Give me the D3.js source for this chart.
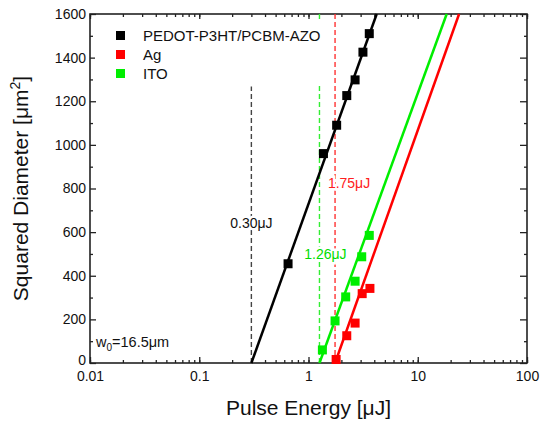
<!DOCTYPE html>
<meta charset="utf-8">
<script src="https://cdn.jsdelivr.net/npm/d3@7"></script>
<style>
body { margin: 0; background: #fff; }
text { font-family: Arial, "Liberation Sans", sans-serif; }
</style>
<body>
<script>
// data
var seriesNames = ["PEDOT-P3HT/PCBM-AZO", "Ag", "ITO"];
var seriesColors = ["#000000", "#ff0000", "#00ee00"];

var energyPedot = [0.65, 1.37, 1.81, 2.24, 2.67, 3.15, 3.60];
var diamPedot   = [455, 960, 1090, 1226, 1298, 1425, 1510];

var energyAg = [1.79, 2.24, 2.67, 3.10, 3.65];
var diamAg   = [16, 125, 183, 318, 342];

var energyIto = [1.34, 1.75, 2.19, 2.67, 3.07, 3.60];
var diamIto   = [60, 193, 303, 375, 487, 585];

// threshold energy (fit at D2 = 0) and energy where fit reaches top of plot
var thresholds = [0.30, 1.75, 1.26];
var fitTopEnergy = [4.21, 23.9, 18.4];
var thresholdLabels = ["0.30\u03bcJ", "1.75\u03bcJ", "1.26\u03bcJ"];
var labelHeights = [643, 825, 497];   // y value where the label sits
var dashTops = [1268, 1600, 1600];

var xMajor = [0.01, 0.1, 1, 10, 100];
var xMajorLabels = ["0.01", "0.1", "1", "10", "100"];
var yMajor = [0, 200, 400, 600, 800, 1000, 1200, 1400, 1600];

var margin = {top: 14, right: 16, bottom: 61, left: 90},
    width = 543 - margin.left - margin.right,
    height = 424 - margin.top - margin.bottom;

var svg = d3.select("body").append("svg")
    .attr("width", 543)
    .attr("height", 424)
  .append("g")
    .attr("transform", "translate(" + margin.left + "," + margin.top + ")");

var x = d3.scaleLog().domain([0.01, 100]).range([0, width]);
var y = d3.scaleLinear().domain([0, 1600]).range([height, 0]);

var axisColor = "#222";

// minor / major ticks, all pointing inward
function drawAxis(axis, transform, cls) {
  var g = svg.append("g").attr("class", cls).attr("transform", transform).call(axis);
  g.select(".domain").remove();
  g.selectAll("line").attr("stroke", axisColor).attr("stroke-width", 1.3);
  g.selectAll("text").style("font-size", "14px").attr("fill", "#111");
  return g;
}

var xMinor = x.ticks();
drawAxis(d3.axisBottom(x).tickValues(xMinor).tickSize(-3).tickFormat(""), "translate(0," + height + ")", "xminor");
drawAxis(d3.axisTop(x).tickValues(xMinor).tickSize(-3).tickFormat(""), "translate(0,0)", "xminor");
var xb = drawAxis(d3.axisBottom(x).tickValues(xMajor).tickSize(-6).tickPadding(10)
    .tickFormat(function(d, i) { return xMajorLabels[i]; }), "translate(0," + height + ")", "xmajor");
drawAxis(d3.axisTop(x).tickValues(xMajor).tickSize(-5).tickFormat(""), "translate(0,0)", "xmajor");

var yMinor = d3.range(100, 1600, 200);
drawAxis(d3.axisLeft(y).tickValues(yMinor).tickSize(-3).tickFormat(""), "translate(0,0)", "yminor");
drawAxis(d3.axisRight(y).tickValues(yMinor).tickSize(-3).tickFormat(""), "translate(" + width + ",0)", "yminor");
var yl = drawAxis(d3.axisLeft(y).tickValues(yMajor).tickSize(-6).tickPadding(4).tickFormat(d3.format("d")), "translate(0,0)", "ymajor");
drawAxis(d3.axisRight(y).tickValues(yMajor).tickSize(-7).tickFormat(""), "translate(" + width + ",0)", "ymajor");
xb.selectAll("text").attr("dy", "0.55em");
// lift the "0" a little so it clears "0.01"
yl.selectAll("text").filter(function(d) { return d === 0; }).attr("dy", "0.1em");

// frame
svg.append("rect")
    .attr("width", width).attr("height", height)
    .attr("fill", "none").attr("stroke", axisColor).attr("stroke-width", 1.6);

// threshold dashed lines
var dashColors = ["#444", "#ff3333", "#33ee33"];
for (var i = 0; i < 3; i++) {
  svg.append("line")
      .attr("x1", x(thresholds[i])).attr("x2", x(thresholds[i]))
      .attr("y1", y(0)).attr("y2", y(dashTops[i]))
      .attr("stroke", dashColors[i])
      .attr("stroke-width", 1.4)
      .attr("stroke-dasharray", "5,3");
}

// legend background hides the top of the ITO dash line
svg.append("rect")
    .attr("x", 5).attr("y", 6).attr("width", 235).attr("height", 66)
    .attr("fill", "#fff");

// fit lines
for (var i = 0; i < 3; i++) {
  svg.append("line")
      .attr("x1", x(thresholds[i])).attr("y1", y(0))
      .attr("x2", x(fitTopEnergy[i])).attr("y2", y(1600))
      .attr("stroke", seriesColors[i])
      .attr("stroke-width", 2.5);
}

// data squares
var allE = [energyPedot, energyAg, energyIto];
var allD = [diamPedot, diamAg, diamIto];
var sq = 9;
for (var i = 0; i < 3; i++) {
  svg.selectAll(".pt" + i)
      .data(d3.zip(allE[i], allD[i]))
      .enter().append("rect")
      .attr("class", "pt" + i)
      .attr("x", function(d) { return x(d[0]) - sq / 2; })
      .attr("y", function(d) { return y(d[1]) - sq / 2; })
      .attr("width", sq).attr("height", sq)
      .attr("fill", seriesColors[i]);
}

// threshold labels with white halo
var labelColors = ["#111", "#ff2020", "#00dd00"];
var labelShift = [0, 14, 6];
for (var i = 0; i < 3; i++) {
  svg.append("text")
      .attr("x", x(thresholds[i]) + labelShift[i])
      .attr("y", y(labelHeights[i]))
      .attr("dy", "0.35em")
      .attr("text-anchor", "middle")
      .attr("fill", labelColors[i])
      .attr("stroke", "#fff").attr("stroke-width", 5)
      .attr("paint-order", "stroke")
      .style("font-size", "14px")
      .text(thresholdLabels[i]);
}

// legend
var legend = svg.selectAll(".legend")
    .data(seriesNames)
    .enter().append("g")
    .attr("class", "legend")
    .attr("transform", function(d, i) { return "translate(0," + (i * 19) + ")"; });

legend.append("rect")
    .attr("x", 26).attr("y", 17)
    .attr("width", 9).attr("height", 9)
    .attr("fill", function(d, i) { return seriesColors[i]; });

legend.append("text")
    .attr("x", 53).attr("y", 22)
    .attr("dy", "0.36em")
    .style("font-size", "15px")
    .attr("fill", "#111")
    .text(function(d) { return d; });

// beam waist note
var w0 = svg.append("text")
    .attr("x", 6).attr("y", y(96))
    .attr("dy", "0.35em")
    .style("font-size", "14.5px")
    .attr("fill", "#111");
w0.append("tspan").text("w");
w0.append("tspan").attr("dy", "4").style("font-size", "10px").text("0");
w0.append("tspan").attr("dy", "-4").text("=16.5\u03bcm");

// axis titles
svg.append("text")
    .attr("x", width / 2)
    .attr("y", height + 52)
    .attr("text-anchor", "middle")
    .style("font-size", "21px")
    .attr("fill", "#111")
    .text("Pulse Energy [\u03bcJ]");

var yt = svg.append("text")
    .attr("transform", "translate(" + (-62) + "," + (height / 2) + ") rotate(-90)")
    .attr("text-anchor", "middle")
    .style("font-size", "21px")
    .attr("fill", "#111");
yt.append("tspan").text("Squared Diameter [\u03bcm");
yt.append("tspan").attr("dy", "-8").style("font-size", "14px").text("2");
yt.append("tspan").attr("dy", "8").text("]");
</script>
</body>
</html>
